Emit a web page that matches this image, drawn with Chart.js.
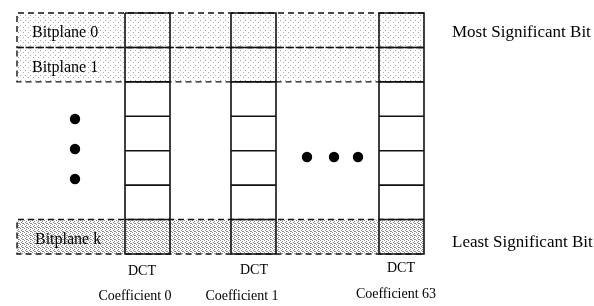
<!DOCTYPE html>
<html>
<head>
<meta charset="utf-8">
<script src="https://cdn.jsdelivr.net/npm/chart.js@4/dist/chart.umd.min.js"></script>
<style>
  html, body { margin: 0; padding: 0; background: #fff; }
  #c { display: block; }
</style>
</head>
<body>
<canvas id="c" width="594" height="306"></canvas>
<script>
// ---- content (diagram semantics) ----
const coefficientLabels = ['Coefficient 0', 'Coefficient 1', 'Coefficient 63'];
const coefficientHeader = 'DCT';
const bitplaneLabels = ['Bitplane 0', 'Bitplane 1', 'Bitplane k'];
const bitplaneRows = [0, 1, 6];          // which row of each column each labelled bitplane occupies
const bitplaneShade = ['light', 'light', 'dark'];
const rowsPerColumn = 7;
const significanceLabels = ['Most Significant Bit', 'Least Significant Bit'];
const ellipsisDots = 3;

// ---- layout (drawing units = pixels of the 594x306 page) ----
const L = {
  top: 13, bottom: 254, bandLeft: 17,
  colLeft: [125, 231, 379], colWidth: 45,
  vDotsX: 75, vDotsY: [119, 149, 179],
  hDotsY: 157, hDotsX: [307, 334, 358]
};
const rowH = (L.bottom - L.top) / rowsPerColumn;
const bandRight = L.colLeft[L.colLeft.length - 1] + L.colWidth;

function makePattern(size, dots, col) {
  const c = document.createElement('canvas');
  c.width = size; c.height = size;
  const g = c.getContext('2d');
  g.fillStyle = '#ffffff'; g.fillRect(0, 0, size, size);
  g.fillStyle = col;
  dots.forEach(([x, y]) => g.fillRect(x, y, 1, 1));
  return g.createPattern(c, 'repeat');
}
const ctx0 = document.getElementById('c').getContext('2d');
const patterns = {
  light: makePattern(5, [[0, 0], [3, 2]], '#a8a8a8'),
  dark: makePattern(4, [[0, 0], [2, 1], [1, 2], [3, 3], [2, 3]], '#8c8c8c')
};

const datasets = [];
// bitplane bands (fill, drawn at the back)
bitplaneRows.forEach((r, i) => {
  const y0 = L.top + r * rowH, y1 = y0 + rowH;
  datasets.push({
    data: [{x: L.bandLeft, y: y0}, {x: bandRight, y: y0}],
    showLine: true, pointRadius: 0, borderWidth: 0, order: 10,
    backgroundColor: patterns[bitplaneShade[i]],
    fill: {target: {value: y1}}
  });
});
// dashed band outlines
bitplaneRows.forEach((r) => {
  const y0 = L.top + r * rowH, y1 = y0 + rowH;
  datasets.push({
    data: [{x: bandRight, y: y0}, {x: L.bandLeft, y: y0}, {x: L.bandLeft, y: y1}, {x: bandRight, y: y1}],
    showLine: true, pointRadius: 0, borderWidth: 1.4, borderColor: '#111', order: 5,
    borderDash: [6, 4], fill: false
  });
});
// coefficient columns
L.colLeft.forEach((xl) => {
  const xr = xl + L.colWidth;
  const pts = [{x: xl, y: L.top}, {x: xr, y: L.top}, {x: xr, y: L.bottom}, {x: xl, y: L.bottom}, {x: xl, y: L.top}];
  for (let r = 1; r < rowsPerColumn; r++) {
    const y = L.top + r * rowH;
    pts.push({x: xl, y: null}, {x: xl, y: y}, {x: xr, y: y});
  }
  datasets.push({
    data: pts, showLine: true, spanGaps: false, pointRadius: 0, order: 1,
    borderWidth: 1.6, borderColor: '#111', fill: false
  });
});
// ellipsis dots
datasets.push({
  data: L.vDotsY.slice(0, ellipsisDots).map(y => ({x: L.vDotsX, y})),
  showLine: false, pointRadius: 5.2, backgroundColor: '#000', borderWidth: 0, order: 0
});
datasets.push({
  data: L.hDotsX.slice(0, ellipsisDots).map(x => ({x, y: L.hDotsY})),
  showLine: false, pointRadius: 5.2, backgroundColor: '#000', borderWidth: 0, order: 0
});

const labelPlugin = {
  id: 'labels',
  afterDatasetsDraw(chart) {
    const c = chart.ctx, sx = chart.scales.x, sy = chart.scales.y;
    const put = (txt, x, y, size, align) => {
      c.font = size + 'px "Liberation Serif", "Times New Roman", serif';
      c.textAlign = align; c.textBaseline = 'middle'; c.fillStyle = '#000';
      c.fillText(txt, sx.getPixelForValue(x), sy.getPixelForValue(y));
    };
    const bandPos = [[32, 33], [32, 68], [35, 240]];
    bitplaneLabels.forEach((t, i) => put(t, bandPos[i][0], bandPos[i][1], 16, 'left'));
    put(significanceLabels[0], 452, 33, 17, 'left');
    put(significanceLabels[1], 452, 243, 17, 'left');
    const dctPos = [[142, 271], [254, 270], [401, 268]];
    const coefPos = [[135, 296], [242, 296], [396, 294]];
    coefficientLabels.forEach((t, i) => {
      put(coefficientHeader, dctPos[i][0], dctPos[i][1], 14, 'center');
      put(t, coefPos[i][0], coefPos[i][1], 14, 'center');
    });
  }
};

new Chart(document.getElementById('c'), {
  type: 'scatter',
  data: {datasets},
  options: {
    responsive: false, animation: false, events: [],
    layout: {padding: 0, autoPadding: false},
    plugins: {legend: {display: false}, tooltip: {enabled: false}},
    scales: {
      x: {type: 'linear', min: 0, max: 594, display: false},
      y: {type: 'linear', min: 0, max: 306, reverse: true, display: false}
    }
  },
  plugins: [labelPlugin]
});
</script>
</body>
</html>
